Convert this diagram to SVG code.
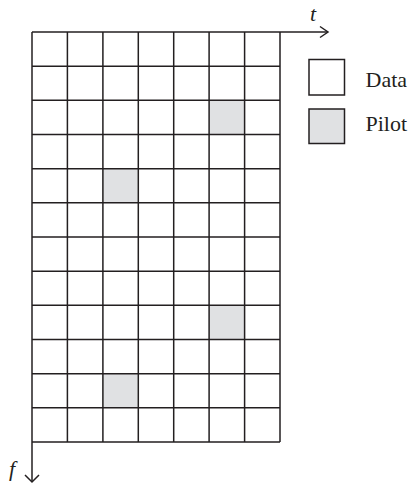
<svg xmlns="http://www.w3.org/2000/svg" width="412" height="485" viewBox="0 0 412 485">
<style>
.ln{stroke:#231f20;stroke-width:1.5;fill:none}
.cell{stroke:#231f20;stroke-width:1.5}
.pilot{fill:#e0e1e3}
.data{fill:#ffffff}
.lbl{font-family:"Liberation Serif",serif;font-size:22px;fill:#231f20}
.ax{font-family:"Liberation Serif",serif;font-size:22px;font-style:italic;fill:#231f20}
</style>
<rect width="412" height="485" fill="#fff"/>
<g id="pilots">
<rect class="pilot" x="209" y="100.3" width="35.5" height="34.2"/>
<rect class="pilot" x="102.3" y="168.7" width="35.5" height="34.2"/>
<rect class="pilot" x="209" y="305" width="35.5" height="34.2"/>
<rect class="pilot" x="102.3" y="373.6" width="35.5" height="34.2"/>
</g>
<g id="grid" class="ln">
<path d="M32 66.2H280M32 100.3H280M32 134.5H280M32 168.7H280M32 202.8H280M32 237H280M32 271.2H280M32 305.3H280M32 339.5H280M32 373.7H280M32 407.8H280M32 442H280"/>
<path d="M67.4 32V442M102.9 32V442M138.3 32V442M173.7 32V442M209.1 32V442M244.6 32V442M280 32V442"/>
</g>
<g id="connectors" class="ln">
<path d="M32 32H328"/>
<path d="M320 26.5L328 32L320 37.5"/>
<path d="M32 32V482"/>
<path d="M25 475L32 482L39 475"/>
</g>
<g id="axis-t"><text class="ax" x="310" y="21">t</text></g>
<g id="axis-f"><text class="ax" x="9" y="476">f</text></g>
<g id="legend-data">
<rect class="cell data" x="309" y="59.5" width="35.5" height="35.5"/>
<text class="lbl" x="365.5" y="86.5">Data</text>
</g>
<g id="legend-pilot">
<rect class="cell pilot" x="309" y="109" width="35.5" height="34.5"/>
<text class="lbl" x="365.5" y="131">Pilot</text>
</g>
</svg>
